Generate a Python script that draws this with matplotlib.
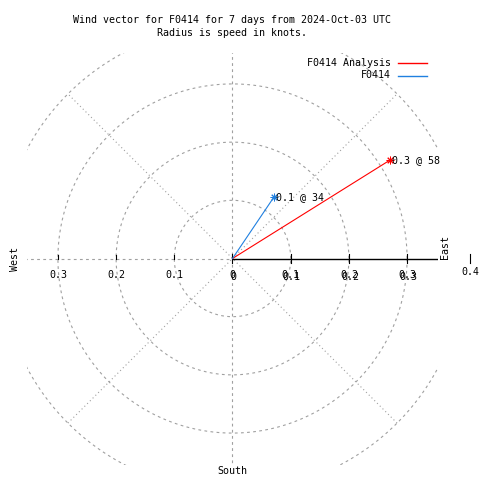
import numpy as np
import matplotlib
matplotlib.use('Agg')
from matplotlib import pyplot as plt

# Wind data: speed in knots, direction in degrees (compass, from north clockwise)
series = ['F0414 Analysis', 'F0414']
speeds = [0.319, 0.127]
directions = [58, 34]
colors = ['#ff0000', '#2080e0']

title = 'Wind vector for F0414 for 7 days from 2024-Oct-03 UTC\nRadius is speed in knots.'
rings = [0.1, 0.2, 0.3, 0.4]
tick_vals = [0.1, 0.2, 0.3]
lim = 0.354

plt.rcParams['font.family'] = ['DejaVu Sans Mono']
fs = 7.2

fig = plt.figure(figsize=(4.8, 4.8), dpi=100)
# plot area in pixels: x 26..438, y 52..464 (from top)
ax = fig.add_axes([26.5 / 480, (480 - 464.5) / 480, 412 / 480, 412 / 480])
ax.set_xlim(-lim, lim)
ax.set_ylim(-lim, lim)
ax.set_aspect('equal')
ax.axis('off')

grid_kw = dict(color='#a0a0a0', lw=0.8)

# circles
t = np.linspace(0, 2 * np.pi, 400)
for r in rings:
    ax.plot(r * np.cos(t), r * np.sin(t), ls=(0, (2.5, 3)), **grid_kw)

# radial grid lines, out to the outer ring
rmax = rings[-1]
ax.plot([-rmax, 0], [0, 0], ls=(0, (2.5, 3)), **grid_kw)
ax.plot([0, 0], [-rmax, rmax], ls=(0, (2.5, 3)), **grid_kw)
for a in [45, 135]:
    c, s = np.cos(np.radians(a)), np.sin(np.radians(a))
    ax.plot([-rmax * c, rmax * c], [-rmax * s, rmax * s], ls=(0, (1, 2.5)), **grid_kw)

# r axis (solid) to the east
ax.plot([0, lim], [0, 0], color='black', lw=1.0, solid_capstyle='butt')
tk = 0.007
for v in tick_vals:
    ax.plot([v, v], [-tk, tk], color='black', lw=0.8)
    ax.plot([-v, -v], [0, tk * 0.9], color='black', lw=0.8)
ax.plot([0, 0], [-tk, tk], color='black', lw=0.8)

# tick labels (right side printed twice, as in the original)
ly = -0.029
for v in tick_vals:
    ax.text(-v, ly, '%.1f' % v, ha='center', va='center', fontsize=fs)
    ax.text(v, ly, '%.1f' % v, ha='center', va='center', fontsize=fs)
    ax.text(v + 0.002, ly - 0.003, '%.1f' % v, ha='center', va='center', fontsize=fs)
ax.text(0, ly, '0', ha='center', va='center', fontsize=fs)
ax.text(0.0015, ly - 0.002, '0', ha='center', va='center', fontsize=fs)
ax.plot([0.408, 0.408], [-0.008, 0.008], color='black', lw=0.8, clip_on=False)
ax.text(0.408, -0.023, '0.4', ha='center', va='center', fontsize=fs, clip_on=False)

# compass labels
ax.text(0.365, 0.019, 'East', rotation=90, ha='center', va='center', fontsize=fs)
ax.text(-0.373, -0.001, 'West', rotation=90, ha='center', va='center', fontsize=fs)
ax.text(0, -0.366, 'South', ha='center', va='center', fontsize=fs)

# wind vectors
for name, spd, d, col in zip(series, speeds, directions, colors):
    x = spd * np.sin(np.radians(d))
    y = spd * np.cos(np.radians(d))
    ax.plot([0, x], [0, y], color=col, lw=0.8, clip_on=False)
    ax.plot([x], [y], marker=(8, 2, 0), ms=5.5, mew=0.7, color=col, clip_on=False)
    ax.text(x + 0.004, y, '%.1f @ %d' % (spd, d), ha='left', va='center', fontsize=fs)

# legend
for i, (name, col) in enumerate(zip(series, colors)):
    yy = 1 - (63 + 12.5 * i) / 480
    fig.text(391 / 480, yy, name, ha='right', va='center', fontsize=fs)
    fig.add_artist(plt.Line2D([398 / 480, 427 / 480], [yy, yy], color=col, lw=1.0))

fig.text(232 / 480, 1 - 26.5 / 480, title, ha='center', va='center', fontsize=fs,
         linespacing=1.35)

fig.savefig('out.png', dpi=100)
